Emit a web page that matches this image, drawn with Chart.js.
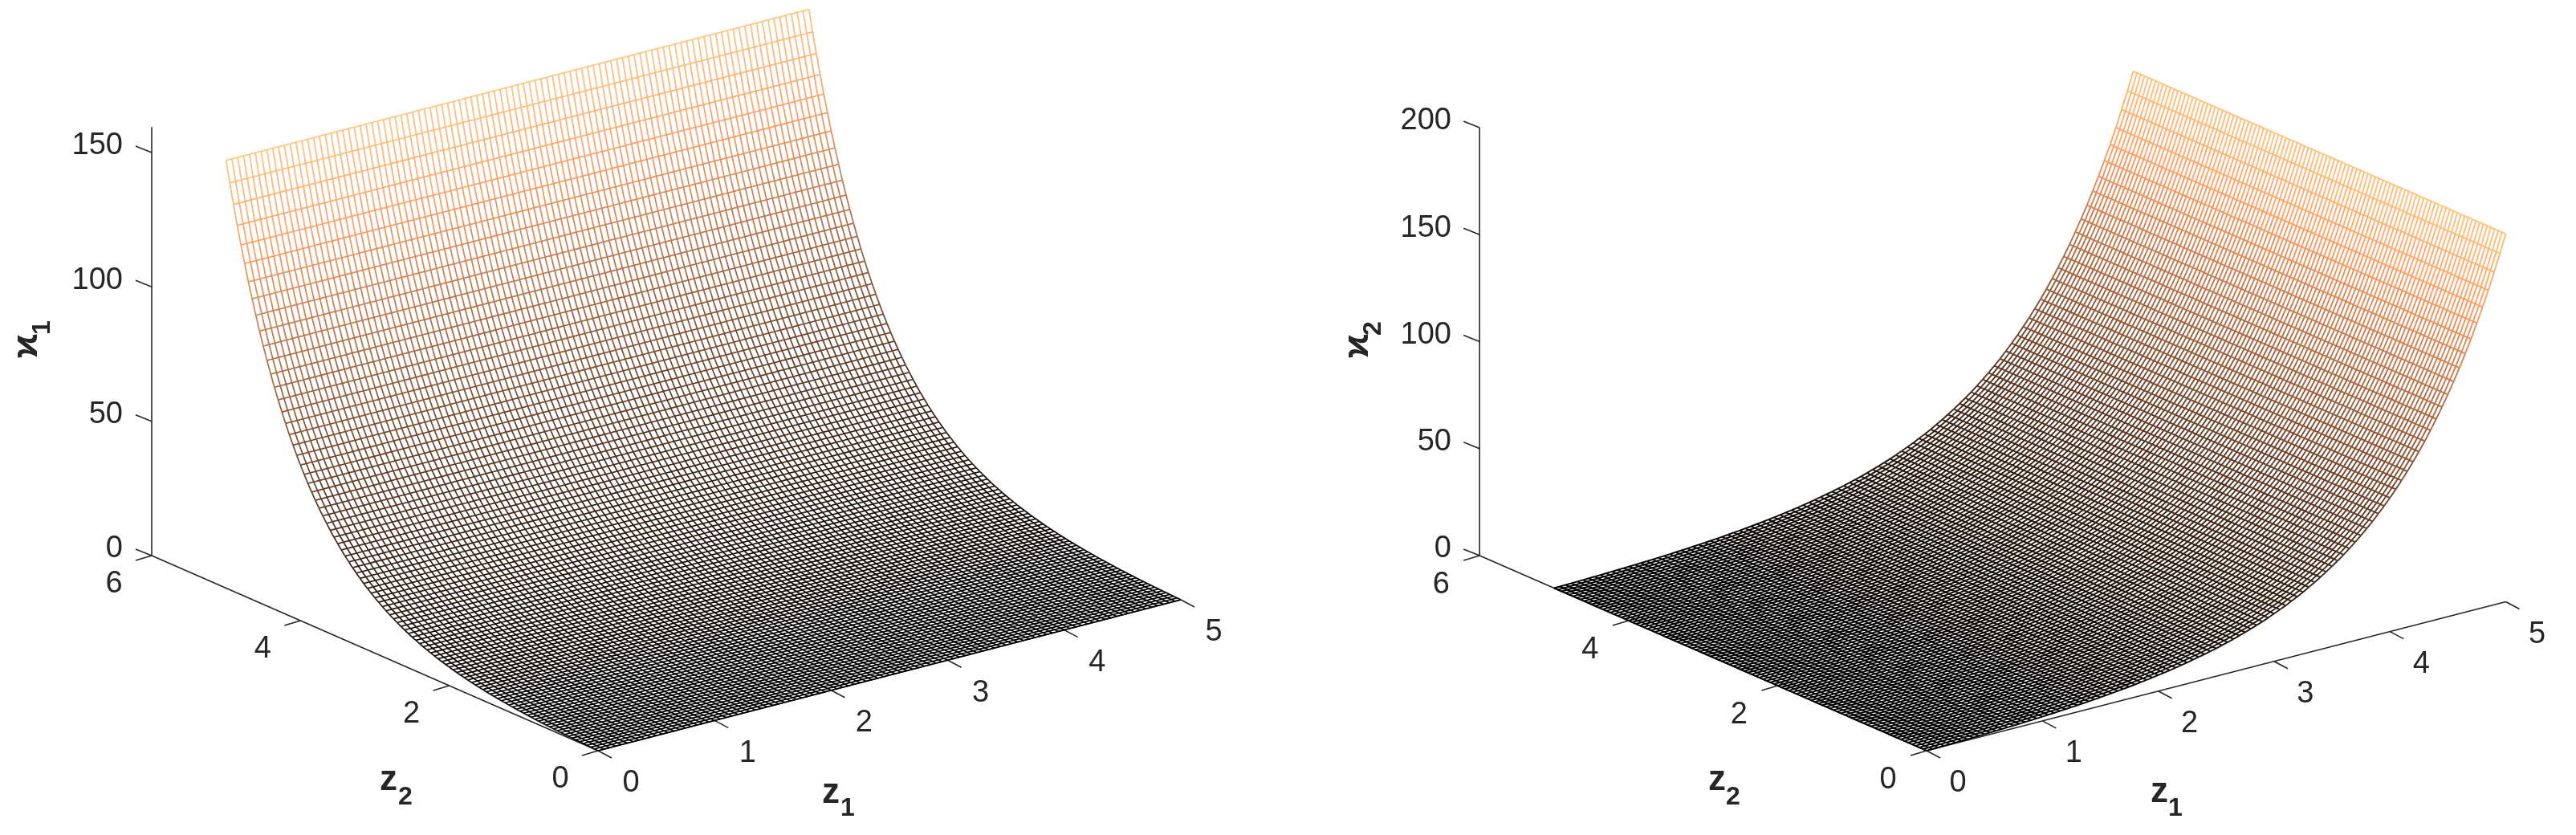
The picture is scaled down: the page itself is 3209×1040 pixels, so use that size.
<!DOCTYPE html>
<html>
<head>
<meta charset="utf-8">
<title>Surfaces</title>
<script src="https://cdn.jsdelivr.net/npm/chart.js@4.4.1/dist/chart.umd.min.js"></script>
<style>
  html, body { margin: 0; padding: 0; background: #fff; overflow: hidden; }
  canvas { position: absolute; top: 0; filter: blur(0.5px); }
  #leftChart { left: 0; }
  #rightChart { left: 1600px; }
</style>
</head>
<body>
<canvas id="leftChart" width="1600" height="1040"></canvas>
<canvas id="rightChart" width="1609" height="1040"></canvas>
<script>
// Tick labels
const z1Ticks = [0, 1, 2, 3, 4, 5];
const z2Ticks = [0, 2, 4, 6];
const x1Ticks = [0, 50, 100, 150];
const x2Ticks = [0, 50, 100, 150, 200];

// Mesh spacing in z1 and z2, read by counting the grid lines
const meshStep = 0.05;

// Height of the left surface on each z2 grid line (0 to 5)
const x1Heights = [
  0, 0.06, 0.11, 0.18, 0.24, 0.31, 0.38, 0.45, 0.53, 0.61,
  0.7, 0.79, 0.89, 0.99, 1.1, 1.21, 1.32, 1.45, 1.58, 1.71,
  1.86, 2.01, 2.16, 2.33, 2.51, 2.69, 2.88, 3.09, 3.3, 3.52,
  3.76, 4.01, 4.27, 4.54, 4.83, 5.14, 5.45, 5.79, 6.14, 6.51,
  6.9, 7.31, 7.74, 8.19, 8.67, 9.17, 9.69, 10.25, 10.82, 11.44,
  12.07, 12.75, 13.46, 14.2, 14.99, 15.81, 16.68, 17.59, 18.54, 19.56,
  20.62, 21.73, 22.9, 24.13, 25.41, 26.77, 28.2, 29.7, 31.28, 32.94,
  34.69, 36.51, 38.45, 40.47, 42.61, 44.84, 47.2, 49.67, 52.27, 55.02,
  57.89, 60.91, 64.09, 67.42, 70.95, 74.64, 78.52, 82.6, 86.88, 91.4,
  96.14, 101.1, 106.4, 111.9, 117.6, 123.8, 130.1, 136.8, 144, 151.4,
  159.2
];

// Height of the right surface on each z1 grid line (0 to 5)
const x2Heights = [
  0, 0.06, 0.12, 0.19, 0.26, 0.33, 0.41, 0.49, 0.57, 0.66,
  0.76, 0.86, 0.96, 1.07, 1.18, 1.3, 1.43, 1.56, 1.7, 1.85,
  2, 2.17, 2.34, 2.52, 2.71, 2.9, 3.11, 3.33, 3.56, 3.81,
  4.06, 4.33, 4.61, 4.91, 5.22, 5.55, 5.89, 6.25, 6.63, 7.03,
  7.45, 7.89, 8.36, 8.85, 9.36, 9.9, 10.5, 11.1, 11.7, 12.4,
  13, 13.8, 14.5, 15.3, 16.2, 17.1, 18, 19, 20, 21.1,
  22.3, 23.5, 24.7, 26.1, 27.4, 28.9, 30.5, 32.1, 33.8, 35.6,
  37.5, 39.4, 41.5, 43.7, 46, 48.4, 51, 53.6, 56.5, 59.4,
  62.5, 65.8, 69.2, 72.8, 76.6, 80.6, 84.8, 89.2, 93.8, 98.7,
  103.8, 109.2, 114.9, 120.9, 127, 133.7, 140.5, 147.7, 155.5, 163.5,
  172
];

const INK = '#262626';
const FONT = '"Liberation Sans", Arial, sans-serif';

// Both panels share one view, only the origin and the height scale differ
const leftView = {
  canvasId: 'leftChart', xMin: 0, xMax: 1600,
  origin: [745, 935], z1Step: [145.2, -37.6], z2Step: [-92.67, -40.5], heightStep: 3.347,
  heights: x1Heights, dependsOn: 'z2', heightTicks: x1Ticks, axisTop: 159.5,
  tickLabelRight: 153, meshWidth: 1.7,
  z1Offset: [41, 41], z2Offset: [-47, 36],
  title: { name: '\u03F0', sub: '1', at: [34, 431], subAt: [53, 408] },
  z2Title: { at: [484, 972], subAt: [505, 993] },
  z1Title: { at: [1035, 988], subAt: [1056, 1007] }
};

const rightView = {
  canvasId: 'rightChart', xMin: 1600, xMax: 3209,
  origin: [2400, 935], z1Step: [144.3, -37.1], z2Step: [-92.8, -40.5], heightStep: 2.665,
  heights: x2Heights, dependsOn: 'z1', heightTicks: x2Ticks, axisTop: 200,
  tickLabelRight: 1808, meshWidth: 1.95,
  z1Offset: [39, 41], z2Offset: [-48, 37],
  title: { name: '\u03F0', sub: '2', at: [1692, 431], subAt: [1711, 409] },
  z2Title: { at: [2139, 972], subAt: [2159, 993] },
  z1Title: { at: [2690, 987], subAt: [2710, 1007] }
};

function project(view, z1, z2, height) {
  return {
    x: view.origin[0] + view.z1Step[0] * z1 + view.z2Step[0] * z2,
    y: view.origin[1] + view.z1Step[1] * z1 + view.z2Step[1] * z2 - view.heightStep * height
  };
}

// MATLAB copper colormap
function copper(t) {
  const r = Math.min(255, 255 * 1.25 * t);
  const g = 255 * 0.7812 * t;
  const b = 255 * 0.4975 * t;
  return `rgb(${r.toFixed(0)},${g.toFixed(0)},${b.toFixed(0)})`;
}

function meshLine(points, width, color, segmentColor) {
  const dataset = {
    data: points,
    showLine: true,
    pointRadius: 0,
    borderWidth: width,
    borderColor: color,
    order: 1
  };
  if (segmentColor) {
    dataset.segment = { borderColor: ctx => segmentColor(ctx.p0DataIndex) };
  }
  return dataset;
}

function meshDatasets(view) {
  const heights = view.heights;
  const top = Math.max(...heights);
  const colors = heights.map(h => copper(h / top));
  const datasets = [];

  heights.forEach((_, a) => {
    // lines that stay level: one colour
    const level = heights.map((_, b) => view.dependsOn === 'z2'
      ? project(view, b * meshStep, a * meshStep, heights[a])
      : project(view, a * meshStep, b * meshStep, heights[a]));
    datasets.push(meshLine(level, view.meshWidth, colors[a]));

    // lines that climb the surface: colour follows the height
    const climb = heights.map((h, b) => view.dependsOn === 'z2'
      ? project(view, a * meshStep, b * meshStep, h)
      : project(view, b * meshStep, a * meshStep, h));
    datasets.push(meshLine(climb, view.meshWidth, colors[0], i => colors[i]));
  });
  return datasets;
}

function axisLine(points) {
  return {
    data: points,
    showLine: true,
    pointRadius: 0,
    borderWidth: 1.6,
    borderColor: INK,
    order: 2
  };
}

function tick(point, dx, dy) {
  return axisLine([point, { x: point.x + dx, y: point.y + dy }]);
}

function axisDatasets(view) {
  const lastZ1 = z1Ticks[z1Ticks.length - 1];
  const lastZ2 = z2Ticks[z2Ticks.length - 1];
  const out = [
    axisLine([project(view, 0, 0, 0), project(view, lastZ1, 0, 0)]),
    axisLine([project(view, 0, 0, 0), project(view, 0, lastZ2, 0)]),
    axisLine([project(view, 0, lastZ2, 0), project(view, 0, lastZ2, view.axisTop)])
  ];
  z1Ticks.forEach(v => out.push(tick(project(view, v, 0, 0), 17, 9)));
  z2Ticks.forEach(v => out.push(tick(project(view, 0, v, 0), -20, 6)));
  view.heightTicks.forEach(v => out.push(tick(project(view, 0, lastZ2, v), -20, -8)));
  return out;
}

// Tick labels and axis titles, placed through the chart's own scales
const axisText = {
  id: 'axisText',
  afterDatasetsDraw(chart, args, opts) {
    const view = opts.view;
    const ctx = chart.ctx;
    const sx = chart.scales.x;
    const sy = chart.scales.y;
    const put = (text, x, y, font, align) => {
      ctx.font = font;
      ctx.textAlign = align || 'center';
      ctx.fillText(text, sx.getPixelForValue(x), sy.getPixelForValue(y));
    };

    ctx.save();
    ctx.fillStyle = INK;
    ctx.textBaseline = 'middle';

    const tickFont = `38px ${FONT}`;
    const lastZ2 = z2Ticks[z2Ticks.length - 1];
    z1Ticks.forEach(v => {
      const p = project(view, v, 0, 0);
      put(String(v), p.x + view.z1Offset[0], p.y + view.z1Offset[1], tickFont);
    });
    z2Ticks.forEach(v => {
      const p = project(view, 0, v, 0);
      put(String(v), p.x + view.z2Offset[0], p.y + view.z2Offset[1], tickFont);
    });
    view.heightTicks.forEach(v => {
      const p = project(view, 0, lastZ2, v);
      put(String(v), view.tickLabelRight, p.y - 8, tickFont, 'right');
    });

    const titleFont = `bold 44px ${FONT}`;
    const subFont = `bold 32px ${FONT}`;
    put('z', view.z1Title.at[0], view.z1Title.at[1], titleFont);
    put('1', view.z1Title.subAt[0], view.z1Title.subAt[1], subFont);
    put('z', view.z2Title.at[0], view.z2Title.at[1], titleFont);
    put('2', view.z2Title.subAt[0], view.z2Title.subAt[1], subFont);

    // rotated height title
    [[view.title.name, view.title.at, titleFont], [view.title.sub, view.title.subAt, subFont]].forEach(([text, at, font]) => {
      ctx.save();
      ctx.translate(sx.getPixelForValue(at[0]), sy.getPixelForValue(at[1]));
      ctx.rotate(-Math.PI / 2);
      ctx.font = font;
      ctx.textAlign = 'center';
      ctx.fillText(text, 0, 0);
      ctx.restore();
    });
    ctx.restore();
  }
};

function drawPanel(view) {
  new Chart(document.getElementById(view.canvasId), {
    type: 'scatter',
    data: { datasets: [...axisDatasets(view), ...meshDatasets(view)] },
    options: {
      responsive: false,
      animation: false,
      parsing: false,
      events: [],
      layout: { padding: 0 },
      scales: {
        x: { type: 'linear', display: false, min: view.xMin, max: view.xMax },
        y: { type: 'linear', display: false, min: 0, max: 1040, reverse: true }
      },
      plugins: {
        legend: { display: false },
        tooltip: { enabled: false },
        axisText: { view }
      }
    },
    plugins: [axisText]
  });
}

drawPanel(leftView);
drawPanel(rightView);
</script>
</body>
</html>
